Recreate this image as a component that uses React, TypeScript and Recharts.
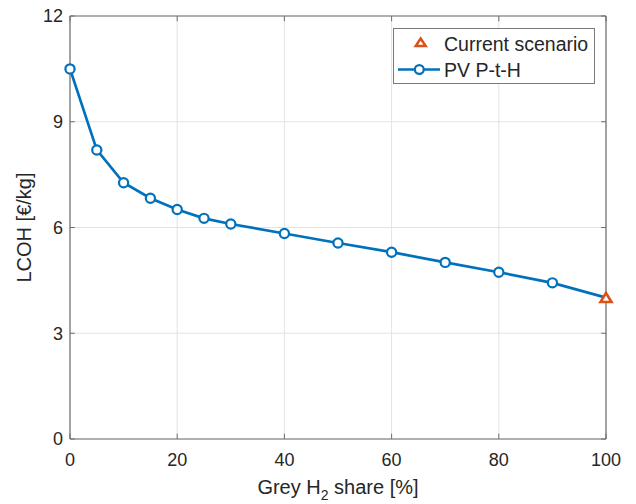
import React from 'react';
import {
  ComposedChart,
  Line,
  Scatter,
  XAxis,
  YAxis,
  CartesianGrid,
  ReferenceLine,
} from 'recharts';

const greyShare = [0, 5, 10, 15, 20, 25, 30, 40, 50, 60, 70, 80, 90, 100];
const pvLcoh = [10.5, 8.2, 7.27, 6.83, 6.51, 6.26, 6.1, 5.83, 5.56, 5.3, 5.01, 4.73, 4.43, 4.01];
const currentShare = [100];
const currentLcoh = [4.0];
const xTicks = [0, 20, 40, 60, 80, 100];
const yTicks = [0, 3, 6, 9, 12];

const BLUE = '#0072BD';
const ORANGE = '#D95319';
const AXIS = '#6e6e6e';
const TEXT = '#262626';
const FONT = '"Liberation Sans", Arial, sans-serif';

const pvData = greyShare.map((x, i) => ({ x, y: pvLcoh[i] }));
const currentData = currentShare.map((x, i) => ({ x, y: currentLcoh[i] }));

const PvDot = (props: any) => {
  const { cx, cy, index } = props;
  // last point sits under the triangle marker
  if (index === pvData.length - 1) return <g key={`d-${index}`} />;
  return <circle key={`d-${index}`} cx={cx} cy={cy} r={4.6} fill="#fff" stroke={BLUE} strokeWidth={2.2} />;
};

const Triangle = (props: any) => {
  const { cx, cy } = props;
  return (
    <polygon
      points={`${cx},${cy - 5} ${cx - 5.5},${cy + 4} ${cx + 5.5},${cy + 4}`}
      fill="#fff"
      stroke={ORANGE}
      strokeWidth={2.6}
    />
  );
};

// legend is drawn as an overlay so it does not take room from the plot
const LegendBox = () => (
  <svg
    width={202}
    height={56}
    style={{ position: 'absolute', left: 393, top: 28 }}
  >
    <rect x={0.5} y={0.5} width={201} height={55} fill="#fff" stroke="#7a7a7a" strokeWidth={1} />
    <polygon points="27.7,10.5 22.7,18 32.7,18" fill="#fff" stroke={ORANGE} strokeWidth={2.5} />
    <text x={51} y={23} fontSize={19.5} fontFamily={FONT} fill={TEXT}>Current scenario</text>
    <line x1={5} y1={41.5} x2={47} y2={41.5} stroke={BLUE} strokeWidth={2.6} />
    <circle cx={26.3} cy={41.5} r={4.4} fill="#fff" stroke={BLUE} strokeWidth={2.2} />
    <text x={51} y={49.3} fontSize={19.5} fontFamily={FONT} fill={TEXT}>PV P-t-H</text>
  </svg>
);

const XLabel = (props: any) => {
  const { viewBox } = props;
  const cx = viewBox.x + viewBox.width / 2;
  return (
    <text x={cx} y={494} textAnchor="middle" fontSize={20} fontFamily={FONT} fill={TEXT}>
      Grey H
      <tspan fontSize={14} dy={6}>2</tspan>
      <tspan dy={-6}> share [%]</tspan>
    </text>
  );
};

export default function App() {
  return (
    <div style={{ position: 'absolute', left: 0, top: 0, width: 636, height: 504, background: '#fff' }}>
      <ComposedChart width={636} height={504} margin={{ top: 16, right: 30, left: 0, bottom: 0 }}>
        <CartesianGrid stroke="#e3e3e3" strokeWidth={1} />
        <XAxis
          type="number"
          dataKey="x"
          domain={[0, 100]}
          ticks={xTicks}
          height={65}
          tickLine={false}
          tickSize={0}
          tickMargin={14}
          axisLine={{ stroke: AXIS, strokeWidth: 1.2 }}
          tick={{ fill: TEXT, fontSize: 18, fontFamily: FONT }}
          label={<XLabel />}
        />
        <YAxis
          type="number"
          dataKey="y"
          domain={[0, 12]}
          ticks={yTicks}
          width={70}
          tickLine={false}
          tickSize={0}
          tickMargin={7}
          axisLine={{ stroke: AXIS, strokeWidth: 1.2 }}
          tick={{ fill: TEXT, fontSize: 18, fontFamily: FONT }}
          label={{
            value: 'LCOH [€/kg]',
            angle: -90,
            position: 'insideLeft',
            offset: 24,
            style: { textAnchor: 'middle', fill: TEXT, fontSize: 20, fontFamily: FONT },
          }}
        />
        <ReferenceLine y={12} stroke={AXIS} strokeWidth={1.2} />
        <ReferenceLine x={100} stroke={AXIS} strokeWidth={1.2} />
        {xTicks.map((t) => (
          <ReferenceLine key={`xb-${t}`} segment={[{ x: t, y: 0 }, { x: t, y: 0.15 }]} stroke={AXIS} />
        ))}
        {xTicks.map((t) => (
          <ReferenceLine key={`xt-${t}`} segment={[{ x: t, y: 12 }, { x: t, y: 11.85 }]} stroke={AXIS} />
        ))}
        {yTicks.map((t) => (
          <ReferenceLine key={`yl-${t}`} segment={[{ x: 0, y: t }, { x: 0.9, y: t }]} stroke={AXIS} />
        ))}
        {yTicks.map((t) => (
          <ReferenceLine key={`yr-${t}`} segment={[{ x: 100, y: t }, { x: 99.1, y: t }]} stroke={AXIS} />
        ))}
        <Line
          data={pvData}
          dataKey="y"
          name="PV P-t-H"
          type="linear"
          stroke={BLUE}
          strokeWidth={2.7}
          dot={<PvDot />}
          isAnimationActive={false}
        />
        <Scatter
          data={currentData}
          dataKey="y"
          name="Current scenario"
          shape={<Triangle />}
          isAnimationActive={false}
        />
      </ComposedChart>
      <LegendBox />
    </div>
  );
}
